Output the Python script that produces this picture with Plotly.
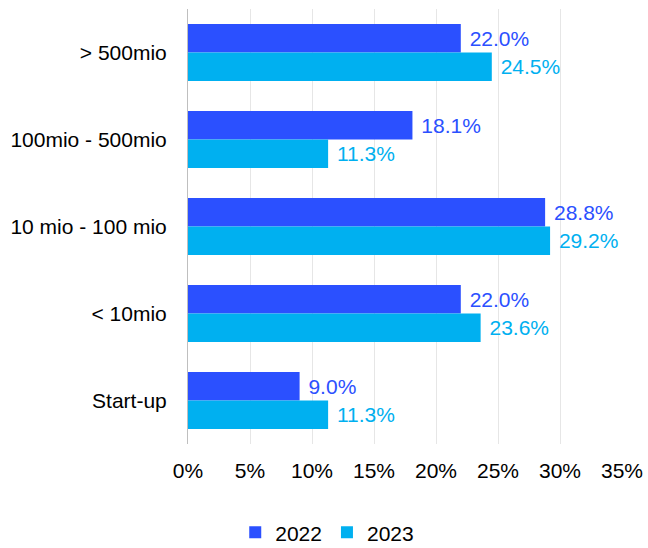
import plotly.graph_objects as go

categories = ["> 500mio", "100mio - 500mio", "10 mio - 100 mio", "< 10mio", "Start-up"]
values_2022 = [22.0, 18.1, 28.8, 22.0, 9.0]
values_2023 = [24.5, 11.3, 29.2, 23.6, 11.3]
tick_vals = [0, 5, 10, 15, 20, 25, 30, 35]
tick_text = ["0%", "5%", "10%", "15%", "20%", "25%", "30%", "35%"]

color_2022 = "#2B50FF"
color_2023 = "#00B0F0"
font_family = "Liberation Sans, Arial, sans-serif"

fig = go.Figure()
for name, vals, col in [("2022", values_2022, color_2022), ("2023", values_2023, color_2023)]:
    fig.add_trace(go.Bar(
        y=categories, x=vals, name=name, orientation="h",
        marker=dict(color=col, line=dict(width=0)),
        text=[f" {v:.1f}%" for v in vals],
        textposition="outside",
        constraintext="none",
        textfont=dict(color=col, size=21, family=font_family),
        cliponaxis=False,
    ))

fig.update_layout(
    width=648, height=548,
    margin=dict(l=188, r=26, t=9, b=104, autoexpand=False),
    paper_bgcolor="white", plot_bgcolor="white",
    barmode="group", bargap=0.345, bargroupgap=0,
    font=dict(family=font_family, size=21, color="#000000"),
    showlegend=True,
    legend=dict(
        orientation="h", x=0.505, xanchor="center", xref="container",
        y=0.028, yanchor="middle", yref="container",
        font=dict(size=21), tracegroupgap=0,
    ),
    xaxis=dict(
        range=[0, 35], tickvals=tick_vals, ticktext=tick_text,
        showgrid=True, gridcolor="#E6E6E6", gridwidth=1,
        zeroline=False, showline=False,
        ticks="outside", ticklen=8, tickcolor="rgba(0,0,0,0)",
        automargin=False,
    ),
    yaxis=dict(
        autorange="reversed", showgrid=False, zeroline=False,
        showline=True, linecolor="#BFBFBF", linewidth=1,
        ticks="outside", ticklen=16, tickcolor="rgba(0,0,0,0)",
        automargin=False,
    ),
)

fig.write_html("out.html")
